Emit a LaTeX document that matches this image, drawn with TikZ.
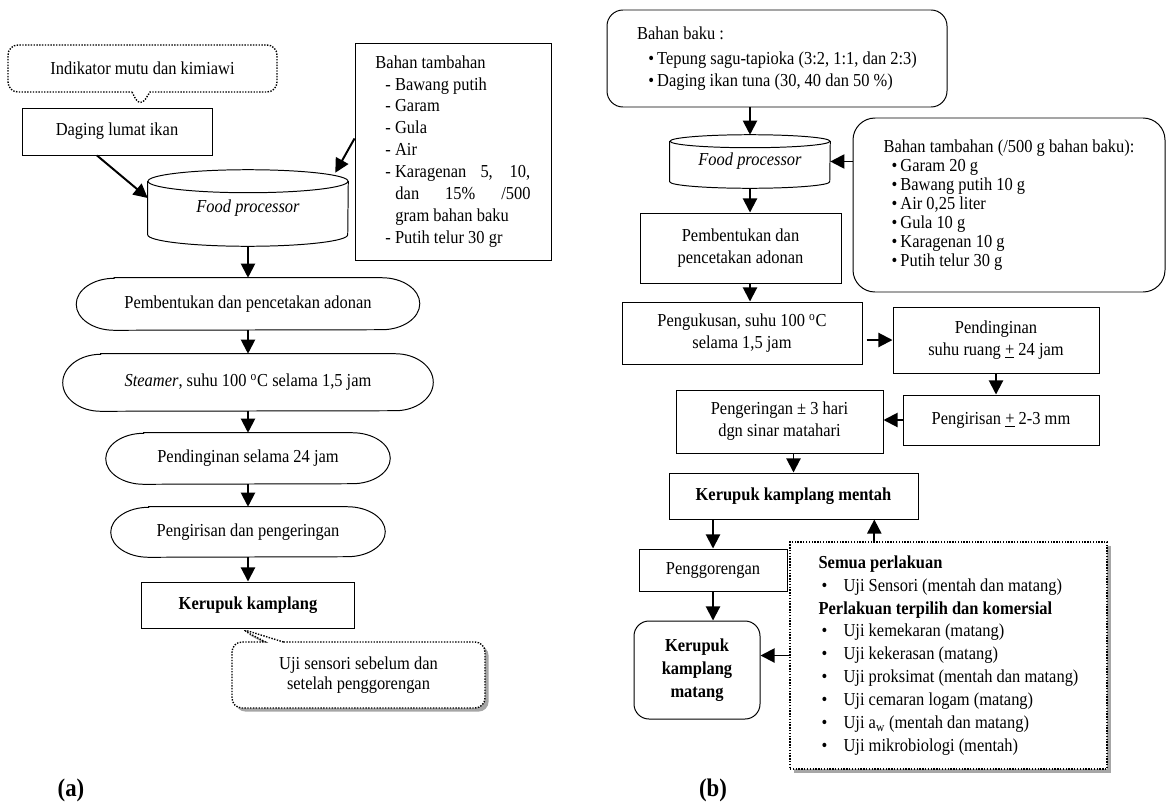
\documentclass[tikz,border=0pt]{standalone}
\usepackage{fontspec}
\setmainfont[FakeStretch=0.9]{Liberation Serif}
\usepackage{tikz}
\usetikzlibrary{calc,shapes.callouts,shadows,arrows.meta}
\newcommand{\unitpx}{0.025cm}
\newcommand{\bul}{\hspace*{0.075cm}\makebox[0.55cm][l]{\textbullet}}
\tikzset{>={Triangle[length=10pt,width=10pt]}}
\tikzset{
  every node/.style={font=\fontsize{13}{15.6}\selectfont, inner sep=0pt},
  lebar/.style={minimum width=#1*\unitpx},
  tinggi/.style={minimum height=#1*\unitpx},
  kotak/.style={draw, line width=0.7pt, align=center},
  kotakbulat/.style={kotak, rounded corners=0.4cm},
  oval/.style={align=center},
  catatan/.style={rectangle callout, draw, densely dotted, line width=1pt, rounded corners=0.25cm,
                  fill=white, align=center, callout pointer width=0.45cm},
  bayang/.style={drop shadow={shadow xshift=0.09cm, shadow yshift=-0.09cm, fill=gray, opacity=0.7}},
  panah/.style={->, line width=1.4pt},
  judul/.style={font=\fontsize{18}{20}\selectfont\bfseries}
}

\begin{document}
\begin{tikzpicture}[x=0.025cm, y=-0.025cm]
  \useasboundingbox (0,0) rectangle (1168,803);

  % (a) alur kerupuk kamplang
  \node[kotak, lebar=190, tinggi=47] (dag) at (117,131.5) {Daging lumat ikan};
  \node[catatan, lebar=269, tinggi=47, callout absolute pointer={($(dag.north)+(23,0)$)}] (ind) at (142.5,68.5)
       {Indikator mutu dan kimiawi};

  \node[lebar=200, tinggi=76] (fpa) at (248,208) {\textit{Food processor}};
  \draw[line width=0.7pt] ($(fpa.north west)+(0,11.5)$) -- ($(fpa.south west)+(0,-11.5)$)
        arc[start angle=180, end angle=360, x radius=100*\unitpx, y radius=11.5*\unitpx]
        -- ($(fpa.north east)+(0,11.5)$);
  \draw[line width=0.7pt] ($(fpa.north)+(0,11.5)$) ellipse[x radius=100*\unitpx, y radius=11.5*\unitpx];

  \node[kotak, align=left, lebar=196, tinggi=217] (bta) at (453,151.5) {%
    Bahan tambahan\\
    \hspace*{0.25cm}- Bawang putih\\
    \hspace*{0.25cm}- Garam\\
    \hspace*{0.25cm}- Gula\\
    \hspace*{0.25cm}- Air\\
    \hspace*{0.25cm}-~\makebox[3.375cm][s]{Karagenan 5, 10,}\\
    \hspace*{0.5cm}\makebox[3.375cm][s]{dan 15\% /500}\\
    \hspace*{0.5cm}gram bahan baku\\
    \hspace*{0.25cm}- Putih telur 30 gr};

  \node[oval, lebar=343, tinggi=52] (e1) at (248,304) {Pembentukan dan pencetakan adonan};
  \node[oval, lebar=370, tinggi=57] (e2) at (248,382.5) {\textit{Steamer}, suhu 100 \textsuperscript{o}C selama 1,5 jam};
  \node[oval, lebar=284, tinggi=51] (e3) at (248,458.5) {Pendinginan selama 24 jam};
  \node[oval, lebar=274, tinggi=50] (e4) at (248,532) {Pengirisan dan pengeringan};
  % bentuk oval
  \foreach \n/\ry in {e1/26, e2/28.5, e3/25.5, e4/25}
    \draw[line width=0.7pt] ($(\n.north west)+(38,0)$) -- ($(\n.north east)+(-38,0)$)
          arc[start angle=90, end angle=-90, x radius=38*\unitpx, y radius=\ry*\unitpx]
          -- ($(\n.south west)+(38,0)$)
          arc[start angle=270, end angle=90, x radius=38*\unitpx, y radius=\ry*\unitpx] -- cycle;

  \node[kotak, lebar=213, tinggi=46] (kka) at (248,605) {\textbf{Kerupuk kamplang}};
  \node[catatan, bayang, lebar=253, tinggi=66, font=\fontsize{13}{14.5}\selectfont,
        callout absolute pointer={($(kka.south)+(-8,0)$)}] (usa) at (358.5,675)
       {Uji sensori sebelum dan\\setelah penggorengan};

  \draw[panah] ($(dag.south)+(-20,0)$) -- ($(fpa.west)+(0,-10)$);
  \draw[panah] ($(bta.west)+(0,-13)$) -- ($(fpa.north east)+(-13,3)$);
  \draw[panah] (fpa.south) -- (e1.north);
  \draw[panah] (e1.south) -- (e2.north);
  \draw[panah] (e2.south) -- (e3.north);
  \draw[panah] (e3.south) -- (e4.north);
  \draw[panah] (e4.south) -- (kka.north);

  \node[judul] (la) at (71,790) {(a)};

  % (b) alur kerupuk kamplang
  \node[kotakbulat, align=left, lebar=340, tinggi=97] (bbk) at (777,58.5) {%
    Bahan baku :\\[2pt]
    \hspace*{0.28cm}\textbullet\,Tepung sagu-tapioka (3:2, 1:1, dan 2:3)\\
    \hspace*{0.28cm}\textbullet\,Daging ikan tuna (30, 40 dan 50 \%)};

  \node[lebar=160, tinggi=53] (fpb) at (750,161.5) {\textit{Food processor}};
  \draw[line width=0.7pt] ($(fpb.north west)+(0,6.5)$) -- ($(fpb.south west)+(0,-6.5)$)
        arc[start angle=180, end angle=360, x radius=80*\unitpx, y radius=6.5*\unitpx]
        -- ($(fpb.north east)+(0,6.5)$);
  \draw[line width=0.7pt] ($(fpb.north)+(0,6.5)$) ellipse[x radius=80*\unitpx, y radius=6.5*\unitpx];

  \node[kotakbulat, rounded corners=0.55cm, align=left, lebar=312, tinggi=174,
        font=\fontsize{13}{13.5}\selectfont] (btb) at (1009,205) {%
    Bahan tambahan (/500 g bahan baku):\\
    \hspace*{0.2cm}\textbullet\,Garam 20 g\\
    \hspace*{0.2cm}\textbullet\,Bawang putih 10 g\\
    \hspace*{0.2cm}\textbullet\,Air 0,25 liter\\
    \hspace*{0.2cm}\textbullet\,Gula 10 g\\
    \hspace*{0.2cm}\textbullet\,Karagenan 10 g\\
    \hspace*{0.2cm}\textbullet\,Putih telur 30 g};

  \node[kotak, lebar=201, tinggi=70] (pbb) at (740.5,248) {Pembentukan dan\\pencetakan adonan};
  \node[kotak, lebar=240, tinggi=62] (pkb) at (742,333) {Pengukusan, suhu 100 \textsuperscript{o}C\\selama 1,5 jam};
  \node[kotak, lebar=206, tinggi=66] (pdb) at (996,340) {Pendinginan\\suhu ruang \underline{+} 24 jam};
  \node[kotak, lebar=196, tinggi=50] (pir) at (1001,420) {Pengirisan \underline{+} 2-3 mm};
  \node[kotak, lebar=207, tinggi=63] (pgr) at (779.5,421.5) {Pengeringan ± 3 hari\\dgn sinar matahari};
  \node[kotak, lebar=249, tinggi=46] (kmb) at (793.5,496) {\textbf{Kerupuk kamplang mentah}};
  \node[kotak, lebar=148, tinggi=42] (pgg) at (713,570) {Penggorengan};
  \node[kotakbulat, rounded corners=0.375cm, lebar=126, tinggi=98,
        font=\fontsize{13}{16.3}\selectfont\bfseries] (kmm) at (697,670) {Kerupuk\\kamplang\\matang};

  % kotak uji
  \node[draw, densely dotted, line width=1pt, fill=white, bayang, align=left, lebar=317, tinggi=227,
        font=\fontsize{13}{16.3}\selectfont] (ujb) at (948.5,655.5) {%
    \textbf{Semua perlakuan}\\
    \bul Uji Sensori (mentah dan matang)\\
    \textbf{Perlakuan terpilih dan komersial}\\
    \bul Uji kemekaran (matang)\\
    \bul Uji kekerasan (matang)\\
    \bul Uji proksimat (mentah dan matang)\\
    \bul Uji cemaran logam (matang)\\
    \bul Uji a\textsubscript{w} (mentah dan matang)\\
    \bul Uji mikrobiologi (mentah)};

  \draw[panah] (fpb.north |- bbk.south) -- (fpb.north);
  \draw[panah] (btb.west |- fpb.east) -- (fpb.east);
  \draw[panah] (fpb.south) -- (fpb.south |- pbb.north);
  \draw[panah] (fpb.south |- pbb.south) -- (fpb.south |- pkb.north);
  \draw[panah] ($(pkb.east |- pdb.west)+(4,0)$) -- (pdb.west);
  \draw[panah] (pdb.south) -- (pdb.south |- pir.north);
  \draw[panah] (pir.west) -- (pir.west -| pgr.east);
  \draw[panah] (kmb.north |- pgr.south) -- (kmb.north);
  \draw[panah] (pgg.north |- kmb.south) -- (pgg.north);
  \draw[panah] (pgg.south) -- (pgg.south |- kmm.north);
  \coordinate (upb) at ($(ujb.north west)+(85,0)$);
  \draw[panah] (upb) -- (upb |- kmb.south);
  \draw[panah] (ujb.west) -- (ujb.west -| kmm.east);

  \node[judul] (lb) at (713,790) {(b)};
\end{tikzpicture}
\end{document}
